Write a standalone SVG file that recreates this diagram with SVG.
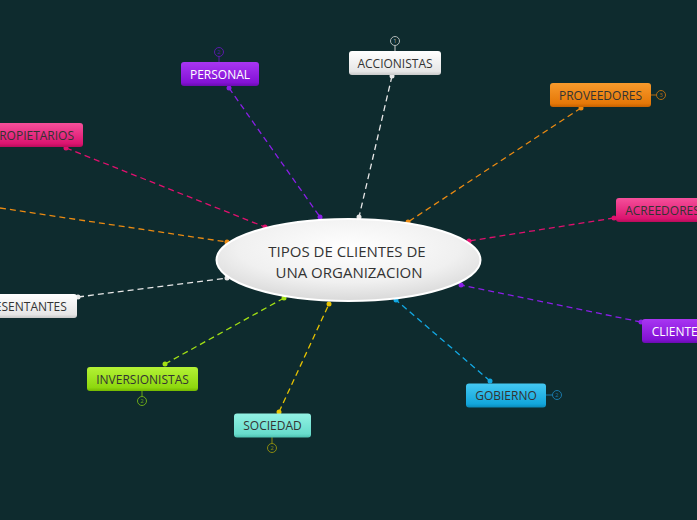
<svg xmlns="http://www.w3.org/2000/svg" width="697" height="520" viewBox="0 0 697 520">
<defs>
<linearGradient id="gPurple" x1="0" y1="0" x2="0" y2="1"><stop offset="0" stop-color="#a836f2"/><stop offset="0.85" stop-color="#8412d6"/><stop offset="1" stop-color="#6a0cb0"/></linearGradient>
<linearGradient id="gWhite" x1="0" y1="0" x2="0" y2="1"><stop offset="0" stop-color="#ffffff"/><stop offset="0.85" stop-color="#e6e6e6"/><stop offset="1" stop-color="#c8c8c8"/></linearGradient>
<linearGradient id="gPink" x1="0" y1="0" x2="0" y2="1"><stop offset="0" stop-color="#f5509a"/><stop offset="0.85" stop-color="#dc1470"/><stop offset="1" stop-color="#b80c5a"/></linearGradient>
<linearGradient id="gOrange" x1="0" y1="0" x2="0" y2="1"><stop offset="0" stop-color="#f89a2c"/><stop offset="0.85" stop-color="#e57808"/><stop offset="1" stop-color="#c46000"/></linearGradient>
<linearGradient id="gLime" x1="0" y1="0" x2="0" y2="1"><stop offset="0" stop-color="#b4f236"/><stop offset="0.85" stop-color="#8ed80e"/><stop offset="1" stop-color="#74b800"/></linearGradient>
<linearGradient id="gAqua" x1="0" y1="0" x2="0" y2="1"><stop offset="0" stop-color="#92f2e4"/><stop offset="0.85" stop-color="#68dccc"/><stop offset="1" stop-color="#4cc0b0"/></linearGradient>
<linearGradient id="gBlue" x1="0" y1="0" x2="0" y2="1"><stop offset="0" stop-color="#44c8f2"/><stop offset="0.85" stop-color="#12a6dc"/><stop offset="1" stop-color="#0a88b8"/></linearGradient>
<radialGradient id="gCenter" cx="0.5" cy="0.35" r="0.7"><stop offset="0" stop-color="#ffffff"/><stop offset="0.6" stop-color="#f0f0f0"/><stop offset="1" stop-color="#d4d4d4"/></radialGradient>
</defs>
<style>
.bg{fill:#0e2b2e}
.c{fill:none;stroke-width:1.3;stroke-dasharray:6 4}
.box{stroke:none}
.t{font-family:"Open Sans","DejaVu Sans",sans-serif;font-size:12px;fill:#333;text-anchor:middle}
.tw{fill:#ffffff}
.ct{font-family:"Open Sans","DejaVu Sans",sans-serif;font-size:15px;fill:#333;text-anchor:middle}
.b{fill:none;stroke-width:1}
.bt{font-family:"Open Sans","DejaVu Sans",sans-serif;font-size:6px;text-anchor:middle}
</style>
<rect class="bg" x="0" y="0" width="697" height="520"/>
<g id="connectors">
<line class="c" x1="229" y1="88" x2="320" y2="217" stroke="#8a1ee6"/>
<circle cx="229" cy="88" r="2.5" fill="#8a1ee6"/><circle cx="320" cy="217" r="2.5" fill="#8a1ee6"/>
<line class="c" x1="392" y1="76" x2="359" y2="217" stroke="#e8e8e8"/>
<circle cx="392" cy="76" r="2.5" fill="#e8e8e8"/><circle cx="359" cy="217" r="2.5" fill="#e8e8e8"/>
<line class="c" x1="581" y1="108" x2="408" y2="222" stroke="#ea8a12"/>
<circle cx="581" cy="108" r="2.5" fill="#ea8a12"/><circle cx="408" cy="222" r="2.5" fill="#ea8a12"/>
<line class="c" x1="66" y1="148" x2="265" y2="227" stroke="#e0106e"/>
<circle cx="66" cy="148" r="2.5" fill="#e0106e"/><circle cx="265" cy="227" r="2.5" fill="#e0106e"/>
<line class="c" x1="0" y1="208" x2="227" y2="242" stroke="#ea8a12"/>
<circle cx="227" cy="242" r="2.5" fill="#ea8a12"/>
<line class="c" x1="614" y1="218" x2="469" y2="241" stroke="#e0106e"/>
<circle cx="614" cy="218" r="2.5" fill="#e0106e"/><circle cx="469" cy="241" r="2.5" fill="#e0106e"/>
<line class="c" x1="641" y1="322" x2="461" y2="285" stroke="#8a1ee6"/>
<circle cx="641" cy="322" r="2.5" fill="#8a1ee6"/><circle cx="461" cy="285" r="2.5" fill="#8a1ee6"/>
<line class="c" x1="490" y1="381" x2="396" y2="300" stroke="#12a8e2"/>
<circle cx="490" cy="381" r="2.5" fill="#12a8e2"/><circle cx="396" cy="300" r="2.5" fill="#12a8e2"/>
<line class="c" x1="279" y1="412" x2="329" y2="304" stroke="#e6c200"/>
<circle cx="279" cy="412" r="2.5" fill="#e6c200"/><circle cx="329" cy="304" r="2.5" fill="#e6c200"/>
<line class="c" x1="165" y1="364" x2="284" y2="298" stroke="#a2e014"/>
<circle cx="165" cy="364" r="2.5" fill="#a2e014"/><circle cx="284" cy="298" r="2.5" fill="#a2e014"/>
<line class="c" x1="78" y1="297" x2="227" y2="278" stroke="#e8e8e8"/>
<circle cx="78" cy="297" r="2.5" fill="#e8e8e8"/><circle cx="227" cy="278" r="2.5" fill="#e8e8e8"/>
</g>
<g id="center">
<ellipse cx="348.5" cy="260" rx="132" ry="41" fill="url(#gCenter)" stroke="#ffffff" stroke-width="2"/>
<text class="ct" x="347" y="256.5">TIPOS DE CLIENTES DE</text>
<text class="ct" x="349" y="278">UNA ORGANIZACION</text>
</g>
<g id="personal">
<line x1="219" y1="56.5" x2="219" y2="62" stroke="#5a1aa8" stroke-width="1"/>
<circle class="b" cx="219" cy="52" r="4.5" stroke="#5a1aa8"/>
<text class="bt" x="219" y="54.2" fill="#5a1aa8">2</text>
<rect class="box" x="181" y="62" width="78" height="24" rx="3" fill="url(#gPurple)"/>
<text class="t tw" x="220" y="78.5">PERSONAL</text>
</g>
<g id="accionistas">
<line x1="395" y1="45.5" x2="395" y2="51" stroke="#cccccc" stroke-width="1"/>
<circle class="b" cx="395" cy="41" r="4.5" stroke="#b0b8b8"/>
<text class="bt" x="395" y="43.2" fill="#b0b8b8">1</text>
<rect class="box" x="349" y="51" width="92" height="24" rx="3" fill="url(#gWhite)"/>
<text class="t" x="395" y="67.5">ACCIONISTAS</text>
</g>
<g id="proveedores">
<line x1="651" y1="95" x2="656.5" y2="95" stroke="#b06a10" stroke-width="1"/>
<circle class="b" cx="661" cy="95" r="4.5" stroke="#b06a10"/>
<text class="bt" x="661" y="97.2" fill="#b06a10">3</text>
<rect class="box" x="550" y="83" width="101" height="24" rx="3" fill="url(#gOrange)"/>
<text class="t" x="600.5" y="99.5">PROVEEDORES</text>
</g>
<g id="propietarios">
<rect class="box" x="-17" y="123" width="100" height="24" rx="3" fill="url(#gPink)"/>
<text class="t" x="33" y="139.5">PROPIETARIOS</text>
</g>
<g id="acreedores">
<rect class="box" x="616" y="198" width="93" height="24" rx="3" fill="url(#gPink)"/>
<text class="t" x="662.5" y="214.5">ACREEDORES</text>
</g>
<g id="clientes">
<rect class="box" x="642" y="319" width="72" height="24" rx="3" fill="url(#gPurple)"/>
<text class="t tw" x="678" y="335.5">CLIENTES</text>
</g>
<g id="representantes">
<rect class="box" x="-44" y="294" width="121" height="24" rx="3" fill="url(#gWhite)"/>
<text class="t" x="16.5" y="310.5">REPRESENTANTES</text>
</g>
<g id="inversionistas">
<line x1="142" y1="390" x2="142" y2="396.5" stroke="#6aa818" stroke-width="1"/>
<circle class="b" cx="142" cy="401" r="4.5" stroke="#6aa818"/>
<text class="bt" x="142" y="403.2" fill="#6aa818">2</text>
<rect class="box" x="87" y="367" width="111" height="24" rx="3" fill="url(#gLime)"/>
<text class="t" x="142.5" y="383.5">INVERSIONISTAS</text>
</g>
<g id="sociedad">
<line x1="272" y1="437" x2="272" y2="443.5" stroke="#8a8a10" stroke-width="1"/>
<circle class="b" cx="272" cy="448" r="4.5" stroke="#8a8a10"/>
<text class="bt" x="272" y="450.2" fill="#8a8a10">2</text>
<rect class="box" x="234" y="413.5" width="77" height="24" rx="3" fill="url(#gAqua)"/>
<text class="t" x="272.5" y="430">SOCIEDAD</text>
</g>
<g id="gobierno">
<line x1="546" y1="395" x2="552.5" y2="395" stroke="#1a78a8" stroke-width="1"/>
<circle class="b" cx="557" cy="395" r="4.5" stroke="#1a78a8"/>
<text class="bt" x="557" y="397.2" fill="#1a78a8">2</text>
<rect class="box" x="466" y="383.5" width="80" height="24" rx="3" fill="url(#gBlue)"/>
<text class="t" x="506" y="400">GOBIERNO</text>
</g>
</svg>
